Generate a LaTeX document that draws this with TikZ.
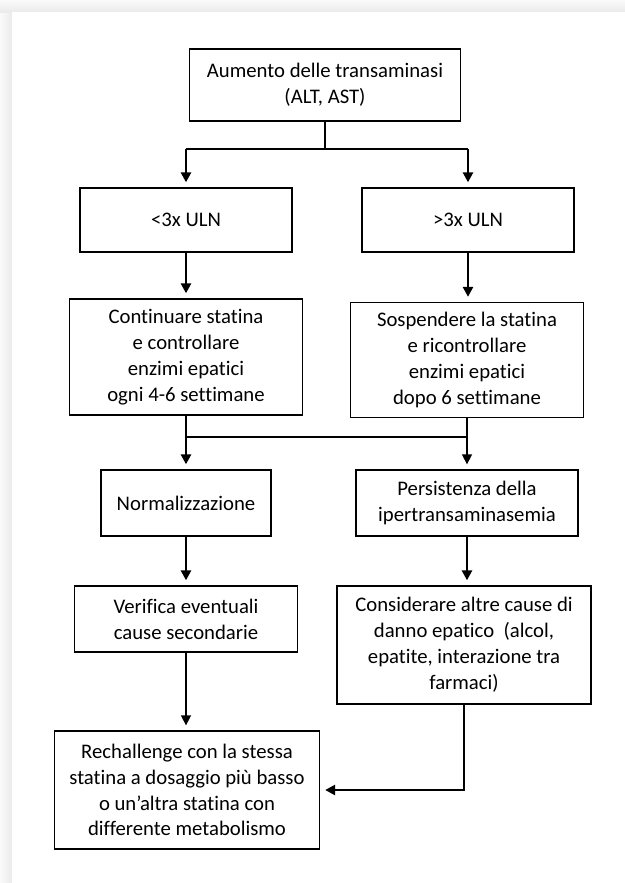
\documentclass[tikz,border=0pt]{standalone}
\usepackage{fontspec}
\setmainfont{Carlito}[Ligatures=NoCommon]
\usepackage{tikz}
\tikzset{
  baseline = (current bounding box.center),
}
\usetikzlibrary{arrows.meta}

\begin{document}
\begin{tikzpicture}[
    x=1bp, y=-1bp,
    box/.style={draw,line width=1.3bp,align=center,inner sep=0pt,
      font=\fontsize{20.8}{26}\selectfont},
    conn/.style={line width=2.5bp},
    flow/.style={conn,-{Triangle[length=10bp,width=10bp]},shorten >=5bp},
    thinflow/.style={flow,line width=1.5bp}
    ]
    \useasboundingbox (0,0) rectangle (625,883);
    \shade[left color=gray!4,right color=gray!16] (0,12) rectangle (12,883);
    \shade[top color=gray!4,bottom color=gray!16] (0,0) rectangle (625,12);
    \fill[white] (12,12) rectangle (625,883);
    \node[box,minimum width=271bp,minimum height=72bp] (aum) at (325,85)
      {Aumento delle transaminasi\\(ALT, AST)};
    \node[box,minimum width=212bp,minimum height=64bp] (lo) at (186,220) {<3x ULN};
    \node[box,minimum width=212bp,minimum height=64bp] (hi) at (468,220) {>3x ULN};
    \node[box,minimum width=233bp,minimum height=116bp] (cont) at (186,357)
      {Continuare statina\\e controllare\\enzimi epatici\\ogni 4-6 settimane};
    \node[box,minimum width=233bp,minimum height=115bp] (susp) at (467,360)
      {Sospendere la statina\\e ricontrollare\\enzimi epatici\\dopo 6 settimane};
    \node[box,minimum width=170bp,minimum height=66bp] (norm) at (186,503) {Normalizzazione};
    \node[box,minimum width=222bp,minimum height=66bp] (pers) at (467,503)
      {Persistenza della\\ipertransaminasemia};
    \node[box,minimum width=223bp,minimum height=66bp] (verif) at (186,619)
      {Verifica eventuali\\cause secondarie};
    \node[box,minimum width=254bp,minimum height=118bp] (cons) at (464,645)
      {Considerare altre cause di\\danno epatico\ \ (alcol,\\epatite, interazione tra\\farmaci)};
    \node[box,minimum width=265bp,minimum height=118bp] (rech) at (187,790)
      {Rechallenge con la stessa\\statina a dosaggio più basso\\o un’altra statina con\\differente metabolismo};
    \coordinate (j1) at (325,149);
    \coordinate (j2) at (186,437);
    \draw[conn] (aum.south) -- (j1);
    \draw[conn] (lo.north |- j1) -- (hi.north |- j1);
    \draw[flow] (lo.north |- j1) -- (lo.north);
    \draw[flow] (hi.north |- j1) -- (hi.north);
    \draw[flow] (lo.south) -- (cont.north);
    \draw[flow] (hi.south) -- (hi.south |- susp.north);
    \draw[conn] (j2) -- (susp.south |- j2);
    \draw[flow] (cont.south) -- (norm.north);
    \draw[thinflow] (susp.south) -- (pers.north);
    \draw[flow] (norm.south) -- (verif.north);
    \draw[flow] (pers.south) -- (pers.south |- cons.north);
    \draw[thinflow] (verif.south) -- (verif.south |- rech.north);
    \draw[flow] (cons.south) |- (rech.east);
  \end{tikzpicture}
\end{document}
